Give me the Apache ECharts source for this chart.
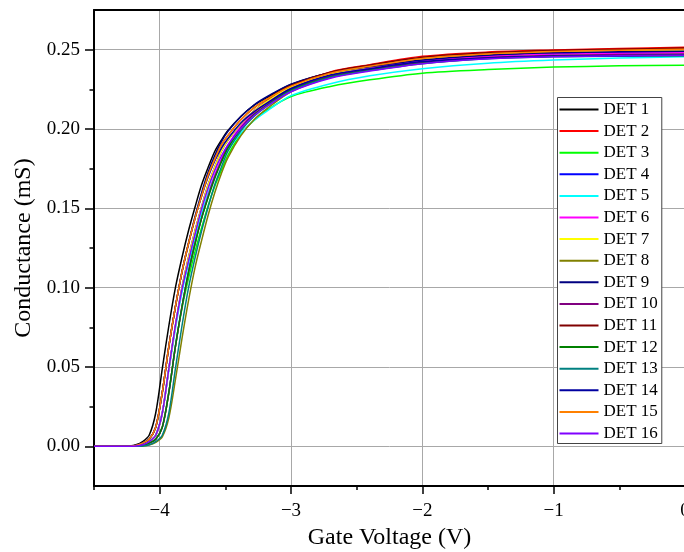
<!DOCTYPE html>
<html>
<head>
<meta charset="utf-8">
<script src="https://cdn.jsdelivr.net/npm/echarts@6/dist/echarts.min.js"></script>
<style>html,body{margin:0;padding:0;background:#fff;}#c{width:684px;height:552px;}</style>
</head>
<body>
<div id="c"></div>
<script>
// Gate voltage sample points (V)
var gateVoltage = [-4.5, -4.28, -4.23, -4.18, -4.13, -4.08, -4.03, -3.98, -3.93, -3.88, -3.83, -3.78, -3.73, -3.68, -3.63, -3.58, -3.53, -3.48, -3.38, -3.28, -3.18, -3.0, -2.7, -2.4, -2.0, -1.5, -1.0, -0.5, 0];

// Conductance (mS) per detector
var det1  = [0, 0, 0.0002, 0.001, 0.003, 0.007, 0.021, 0.049, 0.076, 0.100, 0.119, 0.136, 0.151, 0.165, 0.176, 0.186, 0.193, 0.199, 0.208, 0.215, 0.220, 0.228, 0.2355, 0.2395, 0.2445, 0.2475, 0.249, 0.250, 0.2505];
var det2  = [0, 0, 0, 0.0002, 0.001, 0.003, 0.007, 0.021, 0.049, 0.076, 0.100, 0.119, 0.136, 0.151, 0.165, 0.176, 0.186, 0.193, 0.2035, 0.2115, 0.218, 0.227, 0.236, 0.2405, 0.2458, 0.2485, 0.2498, 0.2508, 0.2515];
var det3  = [0, 0, 0, 0, 0.0005, 0.002, 0.0045, 0.012, 0.034, 0.063, 0.087, 0.106, 0.123, 0.138, 0.152, 0.164, 0.174, 0.1835, 0.197, 0.2055, 0.212, 0.2205, 0.2268, 0.231, 0.2352, 0.2375, 0.239, 0.2398, 0.2402];
var det4  = [0, 0, 0, 0.0002, 0.001, 0.003, 0.007, 0.021, 0.049, 0.076, 0.100, 0.119, 0.136, 0.151, 0.165, 0.176, 0.186, 0.193, 0.2035, 0.2115, 0.2175, 0.226, 0.234, 0.2383, 0.243, 0.246, 0.2475, 0.2481, 0.2485];
var det5  = [0, 0, 0, 0.0002, 0.001, 0.003, 0.007, 0.021, 0.048, 0.074, 0.097, 0.115, 0.131, 0.147, 0.160, 0.171, 0.180, 0.187, 0.1975, 0.2055, 0.2115, 0.221, 0.2285, 0.2335, 0.238, 0.2415, 0.2435, 0.2447, 0.2455];
var det6  = [0, 0, 0, 0, 0.0005, 0.002, 0.0045, 0.012, 0.034, 0.063, 0.088, 0.110, 0.128, 0.144, 0.158, 0.171, 0.181, 0.190, 0.202, 0.2105, 0.2165, 0.2255, 0.2338, 0.2382, 0.2428, 0.2458, 0.2472, 0.2477, 0.248];
var det7  = [0, 0, 0, 0.0002, 0.001, 0.003, 0.007, 0.021, 0.049, 0.076, 0.100, 0.119, 0.136, 0.151, 0.165, 0.176, 0.186, 0.193, 0.2035, 0.2115, 0.2175, 0.2265, 0.2348, 0.2392, 0.2442, 0.2472, 0.2487, 0.2494, 0.2498];
var det8  = [0, 0, 0, 0, 0.0002, 0.0008, 0.0025, 0.006, 0.018, 0.042, 0.068, 0.092, 0.113, 0.130, 0.146, 0.160, 0.172, 0.182, 0.196, 0.206, 0.213, 0.2235, 0.2325, 0.2372, 0.2418, 0.2448, 0.2462, 0.2467, 0.247];
var det9  = [0, 0, 0, 0.0005, 0.002, 0.0045, 0.012, 0.034, 0.063, 0.088, 0.110, 0.128, 0.145, 0.160, 0.173, 0.1835, 0.192, 0.1985, 0.208, 0.2153, 0.2205, 0.2283, 0.2355, 0.2392, 0.2435, 0.2465, 0.248, 0.2487, 0.249];
var det10 = [0, 0, 0, 0, 0.0005, 0.002, 0.0045, 0.012, 0.034, 0.063, 0.088, 0.110, 0.128, 0.144, 0.158, 0.170, 0.180, 0.189, 0.201, 0.2095, 0.2155, 0.225, 0.2332, 0.2375, 0.242, 0.245, 0.2463, 0.2469, 0.2472];
var det11 = [0, 0, 0, 0.0005, 0.002, 0.0045, 0.012, 0.034, 0.063, 0.088, 0.110, 0.128, 0.144, 0.158, 0.171, 0.181, 0.190, 0.196, 0.206, 0.2135, 0.219, 0.2275, 0.2358, 0.2402, 0.2452, 0.248, 0.2495, 0.2503, 0.251];
var det12 = [0, 0, 0, 0, 0.0005, 0.002, 0.0045, 0.012, 0.034, 0.063, 0.088, 0.110, 0.128, 0.144, 0.157, 0.169, 0.179, 0.188, 0.200, 0.209, 0.215, 0.2245, 0.2328, 0.237, 0.2415, 0.2445, 0.2458, 0.2462, 0.2465];
var det13 = [0, 0, 0, 0, 0.0002, 0.001, 0.003, 0.007, 0.021, 0.049, 0.076, 0.100, 0.119, 0.136, 0.151, 0.165, 0.176, 0.186, 0.199, 0.208, 0.2145, 0.224, 0.2325, 0.2368, 0.2412, 0.2442, 0.2455, 0.2459, 0.246];
var det14 = [0, 0, 0, 0.0005, 0.002, 0.0045, 0.012, 0.034, 0.063, 0.088, 0.110, 0.128, 0.144, 0.158, 0.170, 0.180, 0.188, 0.194, 0.204, 0.211, 0.2165, 0.2255, 0.234, 0.238, 0.2425, 0.2448, 0.2458, 0.2462, 0.2465];
var det15 = [0, 0, 0, 0.0005, 0.002, 0.0045, 0.012, 0.034, 0.063, 0.088, 0.110, 0.128, 0.144, 0.158, 0.171, 0.181, 0.190, 0.196, 0.206, 0.2135, 0.219, 0.227, 0.2352, 0.2395, 0.2445, 0.2473, 0.2488, 0.2497, 0.2502];
var det16 = [0, 0, 0, 0.0002, 0.001, 0.003, 0.007, 0.021, 0.049, 0.076, 0.099, 0.117, 0.134, 0.150, 0.163, 0.174, 0.183, 0.190, 0.2005, 0.2085, 0.2145, 0.2235, 0.232, 0.2365, 0.2412, 0.2442, 0.2455, 0.2461, 0.2465];

var seriesNames = ['DET 1','DET 2','DET 3','DET 4','DET 5','DET 6','DET 7','DET 8','DET 9','DET 10','DET 11','DET 12','DET 13','DET 14','DET 15','DET 16'];
var seriesValues = [det1, det2, det3, det4, det5, det6, det7, det8, det9, det10, det11, det12, det13, det14, det15, det16];

// Tick values
var xMajorTicks = [-4, -3, -2, -1, 0];
var xMinorTicks = [-4.5, -3.5, -2.5, -1.5, -0.5];
var yMajorTicks = [0, 0.05, 0.10, 0.15, 0.20, 0.25];
var yMinorTicks = [0.025, 0.075, 0.125, 0.175, 0.225];

var colors = ['#000000','#ff0000','#00ff00','#0000ff','#00ffff','#ff00ff','#ffff00','#808000','#000080','#800080','#800000','#008000','#008080','#0000a0','#ff8000','#8000ff'];

var FONT = '"Liberation Serif", "Times New Roman", serif';
var X_MIN = -4.5, X_MAX = 0, Y_MIN = -0.025, Y_MAX = 0.275;

var series = seriesValues.map(function (vals, i) {
  return {
    name: seriesNames[i],
    type: 'line',
    xAxisIndex: 0, yAxisIndex: 0,
    data: gateVoltage.map(function (x, j) { return [x, vals[j]]; }),
    showSymbol: false,
    symbol: 'none',
    smooth: 0.3,
    lineStyle: { color: colors[i], width: 1.5 },
    itemStyle: { color: colors[i] },
    animation: false,
    z: 2
  };
});

var chart = echarts.init(document.getElementById('c'), null, { renderer: 'canvas' });
chart.setOption({
  animation: false,
  backgroundColor: '#ffffff',
  color: colors,
  grid: { left: 94, top: 10, width: 591, height: 476, containLabel: false, outerBoundsMode: 'none' },
  legend: {
    orient: 'vertical',
    left: 557.5, top: 97.5,
    padding: [2, 4, 0, 2],
    itemGap: 1.6,
    itemWidth: 39, itemHeight: 2,
    icon: 'rect',
    borderColor: '#444', borderWidth: 1,
    backgroundColor: '#ffffff',
    textStyle: { fontFamily: FONT, fontSize: 17, color: '#000', lineHeight: 20 },
    data: seriesNames
  },
  xAxis: [
    {
      type: 'value', min: X_MIN, max: X_MAX, position: 'bottom',
      name: 'Gate Voltage (V)', nameLocation: 'middle', nameGap: 40,
      nameTextStyle: { fontFamily: FONT, fontSize: 24, color: '#000' },
      axisLine: { show: true, onZero: false, lineStyle: { color: '#000', width: 2 } },
      axisTick: { show: true, customValues: xMajorTicks, length: 8, lineStyle: { color: '#000', width: 1.5 } },
      axisLabel: { customValues: xMajorTicks, margin: 16, fontFamily: FONT, fontSize: 19, color: '#000',
        hideOverlap: false,
        formatter: function (v) { return v < 0 ? '\u2212' + Math.abs(v) : String(v); } },
      splitLine: { show: true, lineStyle: { color: '#a8a8a8', width: 1 } }
    },
    {
      type: 'value', min: X_MIN, max: X_MAX, position: 'bottom',
      axisLine: { show: false, onZero: false },
      axisTick: { show: true, customValues: xMinorTicks, length: 4, lineStyle: { color: '#000', width: 1.5 } },
      axisLabel: { show: false },
      splitLine: { show: false }
    },
    {
      type: 'value', min: X_MIN, max: X_MAX, position: 'top',
      axisLine: { show: true, onZero: false, lineStyle: { color: '#000', width: 2 } },
      axisTick: { show: false }, axisLabel: { show: false }, splitLine: { show: false }
    }
  ],
  yAxis: [
    {
      type: 'value', min: Y_MIN, max: Y_MAX, position: 'left',
      name: 'Conductance (mS)', nameLocation: 'middle', nameGap: 57,
      nameTextStyle: { fontFamily: FONT, fontSize: 24, color: '#000' },
      axisLine: { show: true, onZero: false, lineStyle: { color: '#000', width: 2 } },
      axisTick: { show: true, customValues: yMajorTicks, length: 9, lineStyle: { color: '#000', width: 1.5 } },
      axisLabel: { customValues: yMajorTicks, margin: 14, fontFamily: FONT, fontSize: 19, color: '#000',
        formatter: function (v) { return v.toFixed(2); } },
      splitLine: { show: true, lineStyle: { color: '#a8a8a8', width: 1 } }
    },
    {
      type: 'value', min: Y_MIN, max: Y_MAX, position: 'left',
      axisLine: { show: false, onZero: false },
      axisTick: { show: true, customValues: yMinorTicks, length: 4.5, lineStyle: { color: '#000', width: 1.5 } },
      axisLabel: { show: false },
      splitLine: { show: false }
    }
  ],
  series: series
});
</script>
</body>
</html>
